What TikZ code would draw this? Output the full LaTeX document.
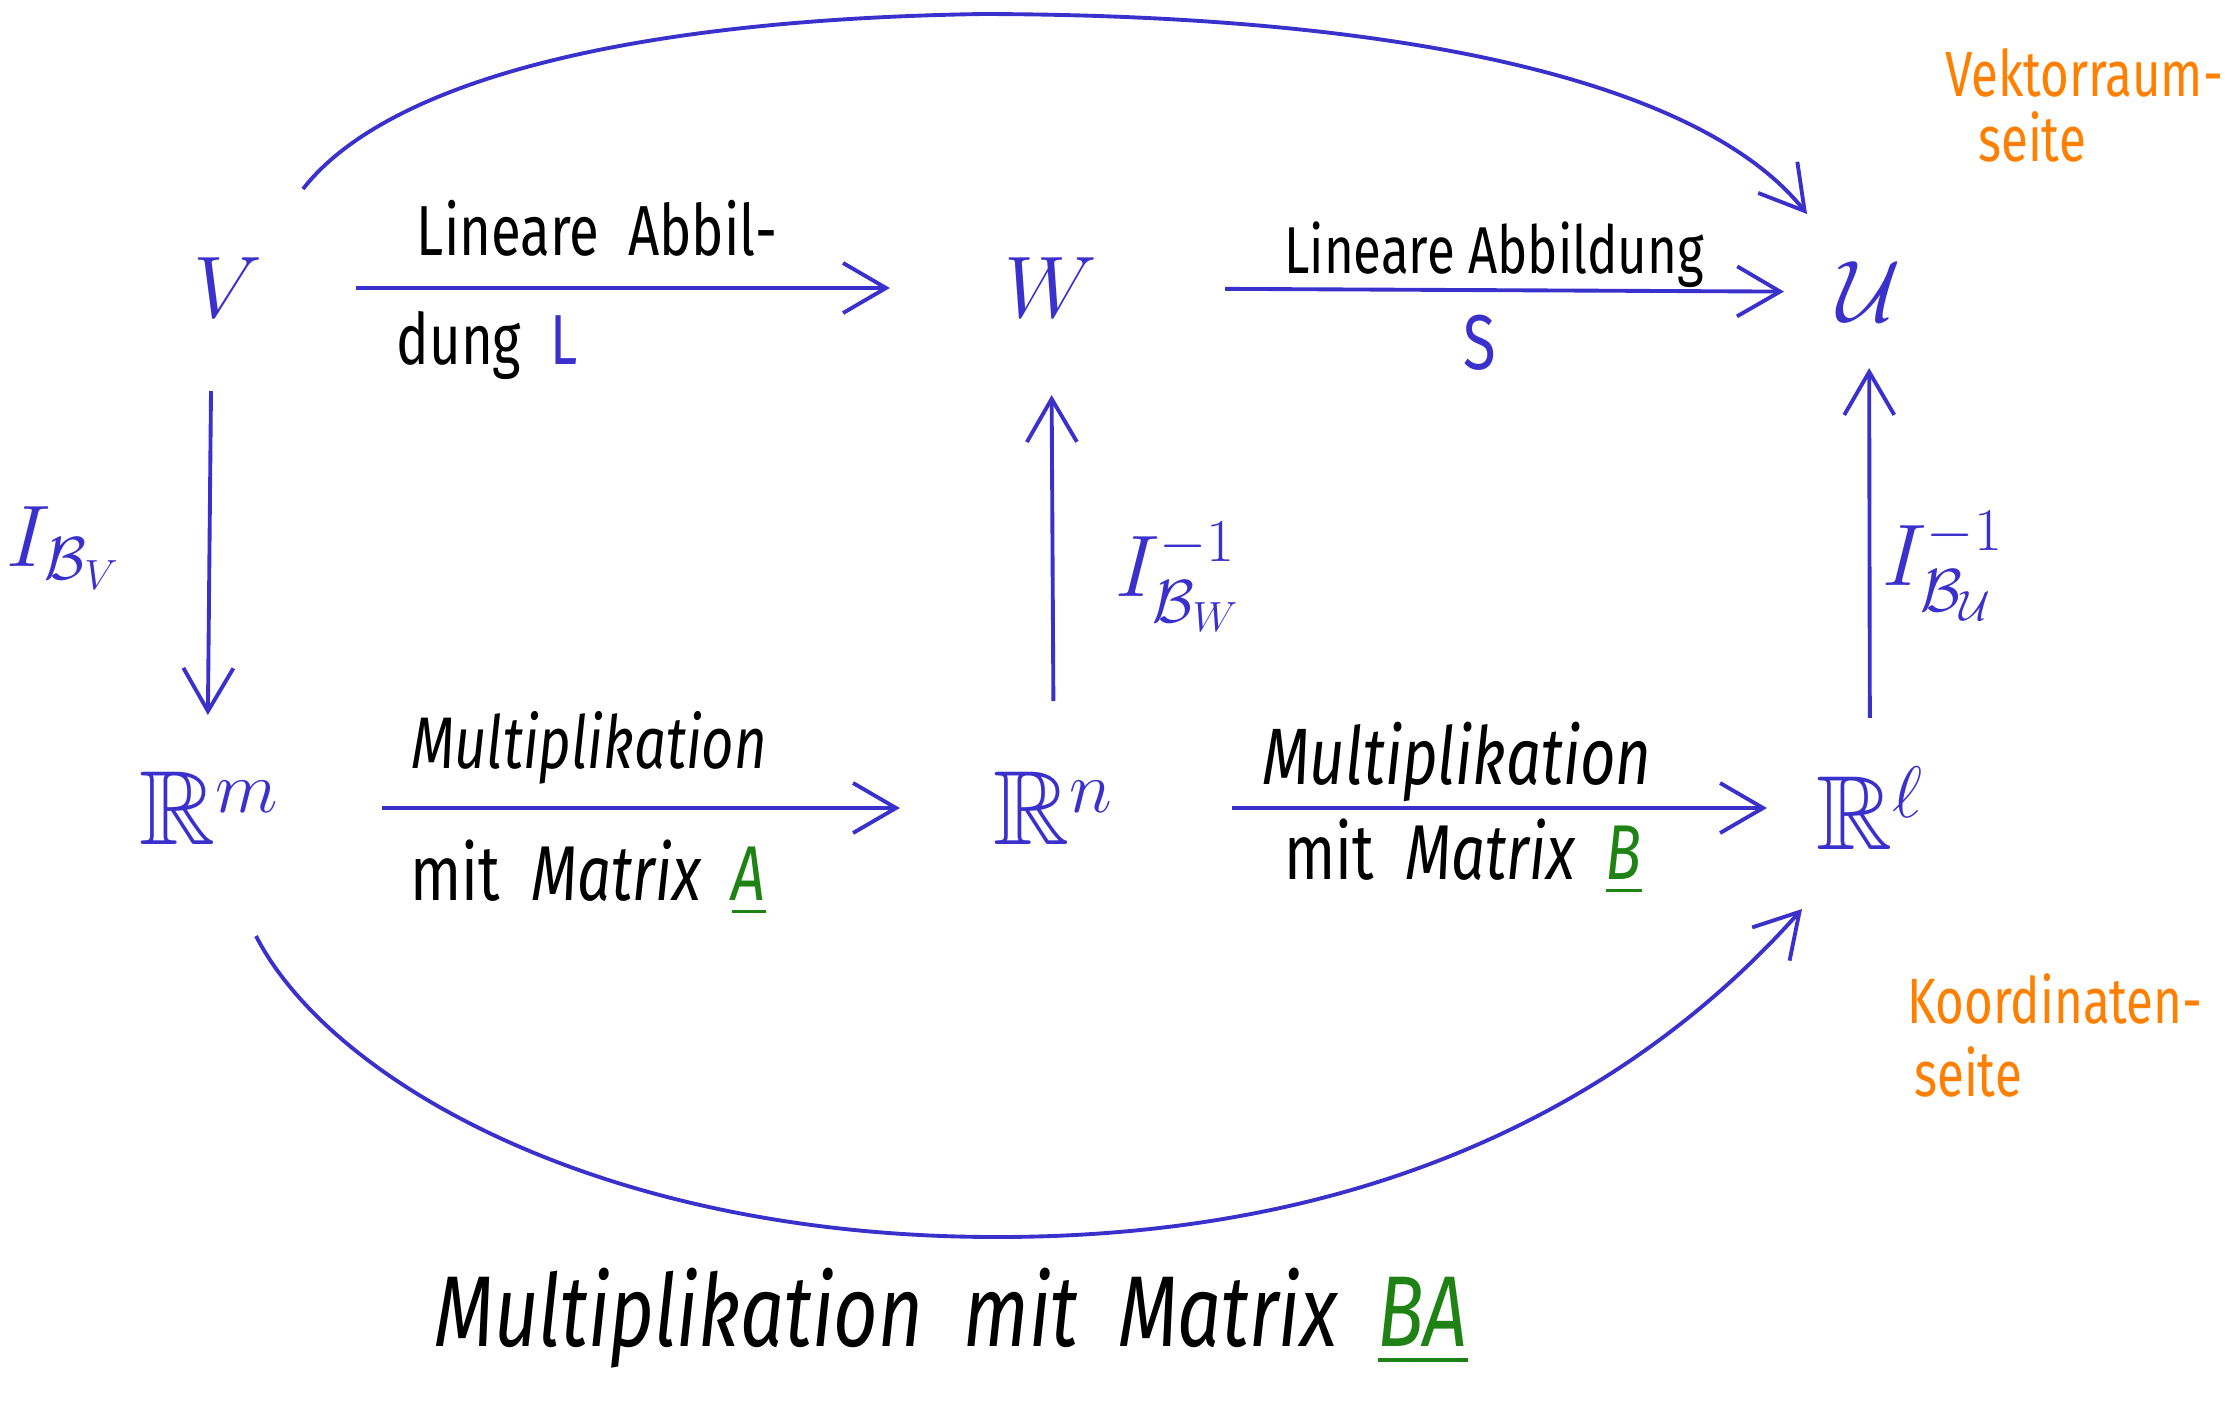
\documentclass[tikz,border=0pt]{standalone}
\usepackage{amssymb}
\usepackage{fontspec}
\setmainfont{Fira Sans}
\usetikzlibrary{arrows.meta,calc}
\definecolor{myblue}{RGB}{58,48,204}
\definecolor{myorange}{RGB}{255,128,0}
\definecolor{mygreen}{RGB}{30,130,20}
\newcommand{\hw}[1]{\scalebox{1}[1.3]{#1}}
\tikzset{
  arr/.style={draw=myblue, line width=1.1pt, -{Straight Barb[length=4.3mm,width=5mm,line width=1.1pt]}},
  mobj/.style={text=myblue, font=\fontsize{34}{40}\selectfont, inner sep=0pt},
  robj/.style={text=myblue, font=\fontsize{30}{36}\selectfont, inner sep=0pt},
  lbl/.style={inner sep=0pt, anchor=center},
  side/.style={inner sep=0pt, text=myorange, font=\fontsize{14}{17}\selectfont},
}
\begin{document}
\begin{tikzpicture}[x=0.01cm,y=-0.01cm]
\useasboundingbox (0,0) rectangle (2234,1403);
% objects
\node[mobj] (V) at (228,288) {$V$};
\node[mobj] (W) at (1051,288) {$W$};
\node[mobj] (U) at (1869,292) {$\mathcal{U}$};
\node[robj] (Rm) at (210,808) {$\mathbb{R}^m$};
\node[robj] (Rn) at (1054,808) {$\mathbb{R}^n$};
\node[robj] (Rl) at (1870,808) {$\mathbb{R}^\ell$};
% straight arrows
\draw[arr, shorten <=1.28cm, shorten >=1.61cm] (V.center) -- (W.center);
\draw[arr, shorten <=1.74cm, shorten >=0.85cm] (W.center) -- (U.center);
\draw[arr, shorten <=1.03cm, shorten >=0.93cm] ([xshift=-0.16cm]V.center) -- ([xshift=-0.03cm]Rm.center);
\draw[arr, shorten <=1.07cm, shorten >=1.07cm] (Rn.center) -- (W.center);
\draw[arr, shorten <=0.90cm, shorten >=0.76cm] (Rl.center) -- (U.center);
\draw[arr, shorten <=1.72cm, shorten >=1.54cm] (Rm.center) -- (Rn.center);
\draw[arr, shorten <=1.78cm, shorten >=1.03cm] (Rn.center) -- (Rl.center);
% curved arrows
\coordinate (tA) at (303,189);
\coordinate (tM) at (983,14);
\coordinate (tB) at (1807,214);
\coordinate (bA) at (256,936);
\coordinate (bM) at (997,1237);
\coordinate (bB) at (1802,909);
\draw[arr] (tA) .. controls (380,90) and (600,20) .. (tM) .. controls (1400,15) and (1700,80) .. (tB);
\draw[arr] (bA) .. controls (330,1080) and (600,1237) .. (bM) .. controls (1400,1237) and (1650,1080) .. (bB);
% arrow labels
\node[lbl, font=\fontsize{15.5}{19}\selectfont] (l1) at (597,228) {\hw{Lineare\ \ Abbil-}};
\node[lbl, font=\fontsize{15.5}{19}\selectfont, anchor=west] (l2) at (396,345) {\hw{dung\ \ \textcolor{myblue}{L}}};
\node[lbl, font=\fontsize{14.5}{18}\selectfont] (l3) at (1494,255) {\hw{Lineare Abbildung}};
\node[lbl, font=\fontsize{17}{20}\selectfont, text=myblue] (l4) at (1480,343) {\hw{S}};
\node[lbl, font=\fontsize{16}{19}\selectfont] (l5) at (589,748) {\hw{\itshape Multiplikation}};
\node[lbl, font=\fontsize{17}{20}\selectfont] (l6) at (588,878) {\hw{mit\ \ \itshape Matrix\ \ \textcolor{mygreen}{\underline{A}}}};
\node[lbl, font=\fontsize{17.5}{20}\selectfont] (l7) at (1457,762) {\hw{\itshape Multiplikation}};
\node[lbl, font=\fontsize{17}{20}\selectfont] (l8) at (1463,857) {\hw{mit\ \ \itshape Matrix\ \ \textcolor{mygreen}{\underline{B}}}};
\node[lbl, font=\fontsize{22}{26}\selectfont] (l9) at (951,1318) {\hw{\itshape Multiplikation\ \ mit\ \ Matrix\ \ \textcolor{mygreen}{\underline{BA}}}};
% coordinate maps
\node[lbl, text=myblue, font=\fontsize{26}{30}\selectfont] (iv) at (64,548) {$I_{\mathcal{B}_V}$};
\node[lbl, text=myblue, font=\fontsize{26}{30}\selectfont] (iw) at (1178,577) {$I_{\mathcal{B}_W}^{-1}$};
\node[lbl, text=myblue, font=\fontsize{26}{30}\selectfont] (iu) at (1943,566) {$I_{\mathcal{B}_\mathcal{U}}^{-1}$};
% side notes
\node[side] (s1) at (2084,73) {\hw{Vektorraum-}};
\node[side] (s2) at (2032,137) {\hw{seite}};
\node[side] (s3) at (2055,999) {\hw{Koordinaten-}};
\node[side] (s4) at (1968,1072) {\hw{seite}};
\end{tikzpicture}
\end{document}
